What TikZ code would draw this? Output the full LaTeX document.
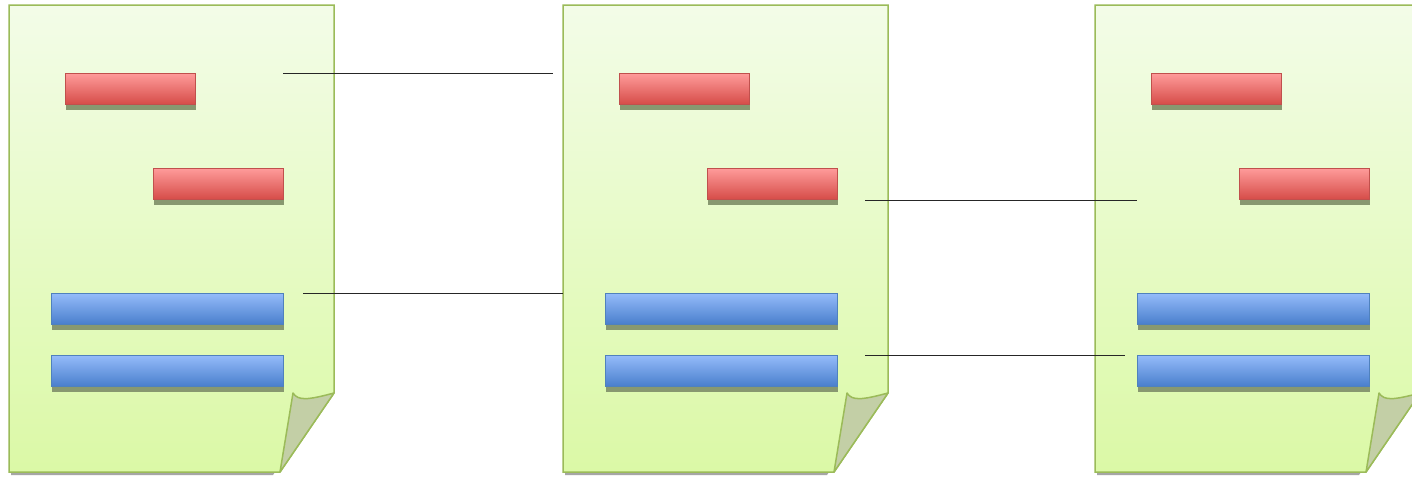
\documentclass[tikz,border=0pt]{standalone}
\usetikzlibrary{shadows}

\definecolor{pageedge}{HTML}{9BBB59}
\definecolor{pagetop}{HTML}{F3FCE8}
\definecolor{pagebot}{HTML}{DBF9A6}
\definecolor{curlfill}{HTML}{C3CFA6}
\definecolor{redtop}{HTML}{FF9C9B}
\definecolor{redbot}{HTML}{D64D49}
\definecolor{rededge}{HTML}{C0504D}
\definecolor{bluetop}{HTML}{95BCFA}
\definecolor{bluebot}{HTML}{4A7FCD}
\definecolor{blueedge}{HTML}{4F81BD}
\definecolor{barshade}{HTML}{889870}

\tikzset{
    bar/.style={draw, line width=1pt, inner sep=0pt, minimum height=31pt,
        drop shadow={shadow xshift=0.5pt, shadow yshift=-6pt, fill=barshade, opacity=1}},
    redbar/.style={bar, draw=rededge, top color=redtop, bottom color=redbot, minimum width=130pt},
    bluebar/.style={bar, draw=blueedge, top color=bluetop, bottom color=bluebot, minimum width=232pt},
    link/.style={line width=0.8pt, black!85}
}

\begin{document}
\begin{tikzpicture}[x=1pt, y=-1pt]
        \useasboundingbox (0,0) rectangle (1412,479);
        \clip (0,0) rectangle (1412,479);
        \fill[white] (0,0) rectangle (1412,479);
        \foreach \p/\dx in {a/0, b/554, c/1086} {
            % page with its shadow
            \fill[black!35] (\dx+11,8) -- (\dx+327,8) -- (\dx+327,396) -- (\dx+273,475) -- (\dx+11,475) -- cycle;
            \shade[top color=pagetop, bottom color=pagebot, draw=pageedge, line width=1.5pt]
                (\dx+9,5) -- (\dx+334,5) -- (\dx+334,393) -- (\dx+280,472) -- (\dx+9,472) -- cycle;
            \fill[curlfill, draw=pageedge, line width=1.5pt, line join=round]
                (\dx+280,472) -- (\dx+293,393) .. controls (\dx+298,401) and (\dx+308,400) .. (\dx+334,393) -- cycle;
            % bars
            \node[redbar] (red1\p) at (\dx+130,88.5) {};
            \node[redbar] (red2\p) at (\dx+218,183.5) {};
            \node[bluebar] (blue1\p) at (\dx+167,308.5) {};
            \node[bluebar] (blue2\p) at (\dx+167,370.5) {};
        }
        \coordinate (l1s) at (283,73);   \coordinate (l1e) at (553,73);
        \coordinate (l2s) at (303,293);  \coordinate (l2e) at (563,293);
        \coordinate (l3s) at (865,200);  \coordinate (l3e) at (1137,200);
        \coordinate (l4s) at (865,355);  \coordinate (l4e) at (1125,355);
        \draw[link] (l1s) -- (l1e);
        \draw[link] (l2s) -- (l2e);
        \draw[link] (l3s) -- (l3e);
        \draw[link] (l4s) -- (l4e);
    \end{tikzpicture}
\end{document}
